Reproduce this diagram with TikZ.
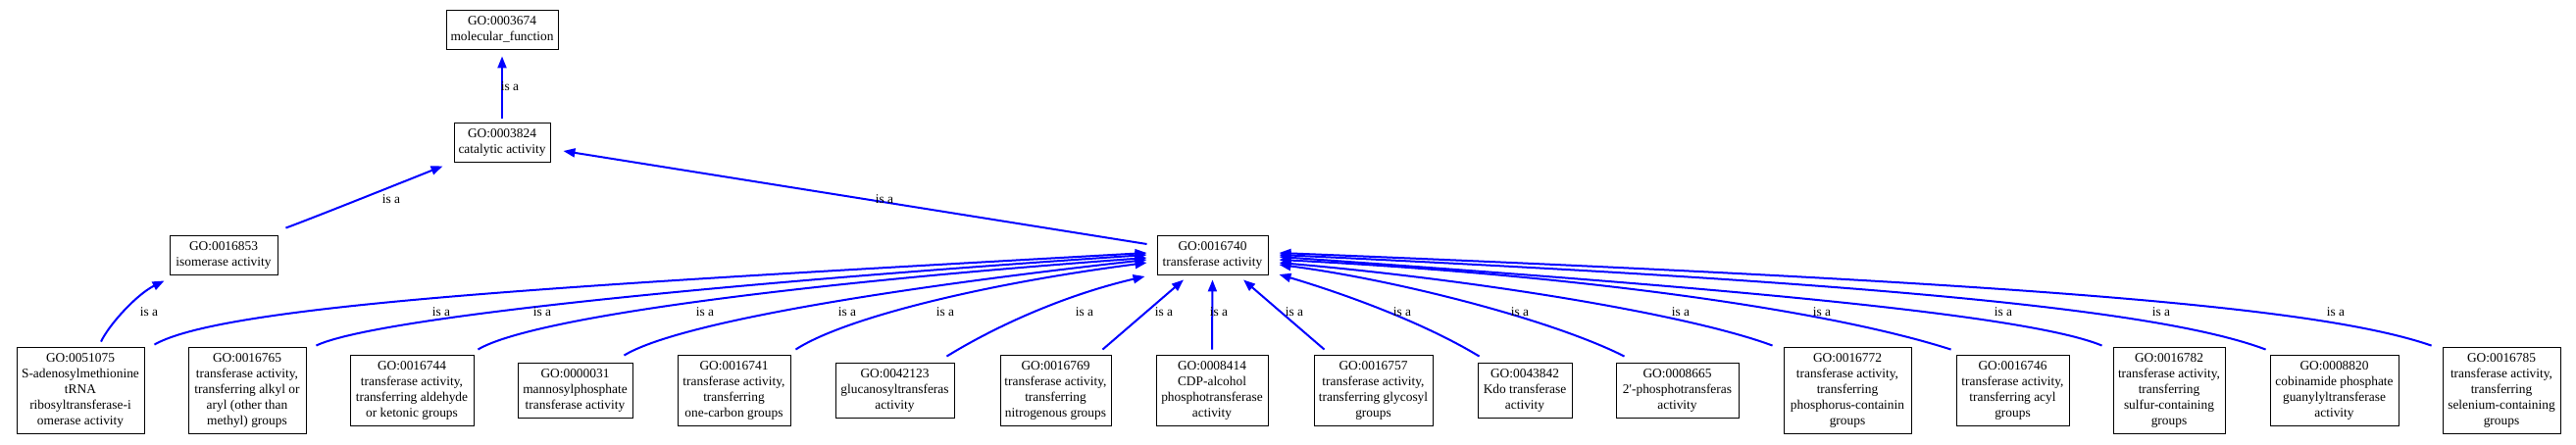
\documentclass[tikz,border=0pt]{standalone}
\usepackage{fontspec}
\setmainfont{Liberation Serif}
\newfontfamily\plainserif{Liberation Serif}
\usetikzlibrary{arrows.meta}
\definecolor{edgeblue}{RGB}{0,0,255}
\begin{document}
\begin{tikzpicture}[x=1pt,y=-1pt,
  box/.style={draw=black,line width=0.9pt,align=center,inner sep=0pt,font=\fontsize{13.4}{16}\selectfont},
  isa/.style={inner sep=0pt,font=\fontsize{13.4}{16}\selectfont},
  rel/.style={draw=edgeblue,line width=2pt,-{Triangle[length=12pt,width=9pt]}},
  two/.style={minimum height=40pt},
  three/.style={minimum height=56pt},
  four/.style={minimum height=72pt},
  five/.style={minimum height=88pt}]
\useasboundingbox (0,0) rectangle (2627,453);
% upper nodes
\node[box,two,minimum width=114pt] (n3674) at (512,30) {GO:0003674\\molecular\_function};
\node[box,two,minimum width=98pt] (n3824) at (512,145) {GO:0003824\\catalytic activity};
\node[box,two,minimum width=110pt] (n16853) at (228,260) {GO:0016853\\isomerase activity};
\node[box,two,minimum width=113pt] (n16740) at (1236.5,260) {GO:0016740\\transferase activity};
% bottom row
\node[box,five,minimum width=130pt] (n51075) at (82,398) {GO:0051075\\S-adenosylmethionine\\tRNA\\ribosyltransferase-i\\omerase activity};
\node[box,five,minimum width=120pt] (n16765) at (252,398) {GO:0016765\\transferase activity,\\transferring alkyl or\\aryl (other than\\methyl) groups};
\node[box,four,minimum width=126pt] (n16744) at (420,398) {GO:0016744\\transferase activity,\\transferring aldehyde\\or ketonic groups};
\node[box,three,minimum width=117pt] (n0031) at (586.5,398) {GO:0000031\\mannosylphosphate\\transferase activity};
\node[box,four,minimum width=115pt] (n16741) at (748.5,398) {GO:0016741\\transferase activity,\\transferring\\one-carbon groups};
\node[box,three,minimum width=121pt] (n42123) at (912.5,398) {GO:0042123\\glucanosyltransferas\\activity};
\node[box,four,minimum width=113pt] (n16769) at (1076.5,398) {GO:0016769\\transferase activity,\\transferring\\nitrogenous groups};
\node[box,four,minimum width=114pt] (n8414) at (1236,398) {GO:0008414\\CDP-alcohol\\phosphotransferase\\activity};
\node[box,four,minimum width=121pt] (n16757) at (1400.5,398) {GO:0016757\\transferase activity,\\transferring glycosyl\\groups};
\node[box,three,minimum width=96pt] (n43842) at (1555,398) {GO:0043842\\Kdo transferase\\activity};
\node[box,three,minimum width=125pt] (n8665) at (1710.5,398) {GO:0008665\\{\plainserif 2'}-phosphotransferas\\activity};
\node[box,five,minimum width=130pt] (n16772) at (1884,398) {GO:0016772\\transferase activity,\\transferring\\phosphorus-containin\\groups};
\node[box,four,minimum width=115pt] (n16746) at (2052.5,398) {GO:0016746\\transferase activity,\\transferring acyl\\groups};
\node[box,five,minimum width=114pt] (n16782) at (2212,398) {GO:0016782\\transferase activity,\\transferring\\sulfur-containing\\groups};
\node[box,four,minimum width=131pt] (n8820) at (2380.5,398) {GO:0008820\\cobinamide phosphate\\guanylyltransferase\\activity};
\node[box,five,minimum width=120pt] (n16785) at (2551,398) {GO:0016785\\transferase activity,\\transferring\\selenium-containing\\groups};
% upper edges
\draw[rel] ([shift={(0,-4)}]n3824.north) -- ([shift={(0,7)}]n3674.south);
\draw[rel] ([shift={(8,-7)}]n16853.north east) .. controls (320,222) and (400,190) .. ([shift={(-11,4)}]n3824.south west);
\draw[rel] ([shift={(-10,-11)}]n16740.west) -- ([shift={(13,9)}]n3824.east);
% bottom edges
\draw[rel] ([shift={(21,-5)}]n51075.north) .. controls (112,330) and (140,300) .. ([shift={(-5,6)}]n16853.south west);
\draw[rel] ([shift={(10,-2)}]n51075.north east) .. controls (230,310) and (600,290) .. ([shift={(-10,-2)}]n16740.west);
\draw[rel] ([shift={(10,-1)}]n16765.north east) .. controls (380,325) and (720,290) .. ([shift={(-10,0)}]n16740.west);
\draw[rel] ([shift={(4,-5)}]n16744.north east) .. controls (540,325) and (800,290) .. ([shift={(-10,3)}]n16740.west);
\draw[rel] ([shift={(-9,-7)}]n0031.north east) .. controls (690,330) and (900,295) .. ([shift={(-10,5)}]n16740.west);
\draw[rel] ([shift={(5,-5)}]n16741.north east) .. controls (860,325) and (1000,290) .. ([shift={(-10,8)}]n16740.west);
\draw[rel] ([shift={(-8,-6)}]n42123.north east) .. controls (1020,330) and (1090,300) .. ([shift={(-12,22)}]n16740.west);
\draw[rel] ([shift={(-9,-5)}]n16769.north east) -- ([shift={(-29.5,5)}]n16740.south);
\draw[rel] ([shift={(0,-5)}]n8414.north) -- ([shift={(0,5)}]n16740.south);
\draw[rel] ([shift={(11,-5)}]n16757.north west) -- ([shift={(31.5,5)}]n16740.south);
\draw[rel] ([shift={(2,-6)}]n43842.north west) .. controls (1440,322) and (1345,292) .. ([shift={(11,20)}]n16740.east);
\draw[rel] ([shift={(9,-6)}]n8665.north west) .. controls (1580,325) and (1420,285) .. ([shift={(11,10)}]n16740.east);
\draw[rel] ([shift={(-11,-1)}]n16772.north west) .. controls (1720,320) and (1500,285) .. ([shift={(11,8)}]n16740.east);
\draw[rel] ([shift={(-5,-5)}]n16746.north west) .. controls (1860,315) and (1600,280) .. ([shift={(11,5)}]n16740.east);
\draw[rel] ([shift={(-11,-1)}]n16782.north west) .. controls (2060,318) and (1700,290) .. ([shift={(11,2)}]n16740.east);
\draw[rel] ([shift={(-4,-5)}]n8820.north west) .. controls (2200,315) and (1900,288) .. ([shift={(11,0)}]n16740.east);
\draw[rel] ([shift={(-11,-1)}]n16785.north west) .. controls (2370,315) and (2100,290) .. ([shift={(11,-2)}]n16740.east);
% labels
\node[isa] (l1) at (520,88) {is a};
\node[isa] (l2) at (399,203) {is a};
\node[isa] (l3) at (902,203) {is a};
\node[isa] (l4) at (152,318) {is a};
\node[isa] (l5) at (450,318) {is a};
\node[isa] (l6) at (553,318) {is a};
\node[isa] (l7) at (719,318) {is a};
\node[isa] (l8) at (864,318) {is a};
\node[isa] (l9) at (964,318) {is a};
\node[isa] (l10) at (1106,318) {is a};
\node[isa] (l11) at (1187,318) {is a};
\node[isa] (l12) at (1243,318) {is a};
\node[isa] (l13) at (1320,318) {is a};
\node[isa] (l14) at (1430,318) {is a};
\node[isa] (l15) at (1550,318) {is a};
\node[isa] (l16) at (1714,318) {is a};
\node[isa] (l17) at (1858,318) {is a};
\node[isa] (l18) at (2043,318) {is a};
\node[isa] (l19) at (2204,318) {is a};
\node[isa] (l20) at (2382,318) {is a};
\end{tikzpicture}
\end{document}
